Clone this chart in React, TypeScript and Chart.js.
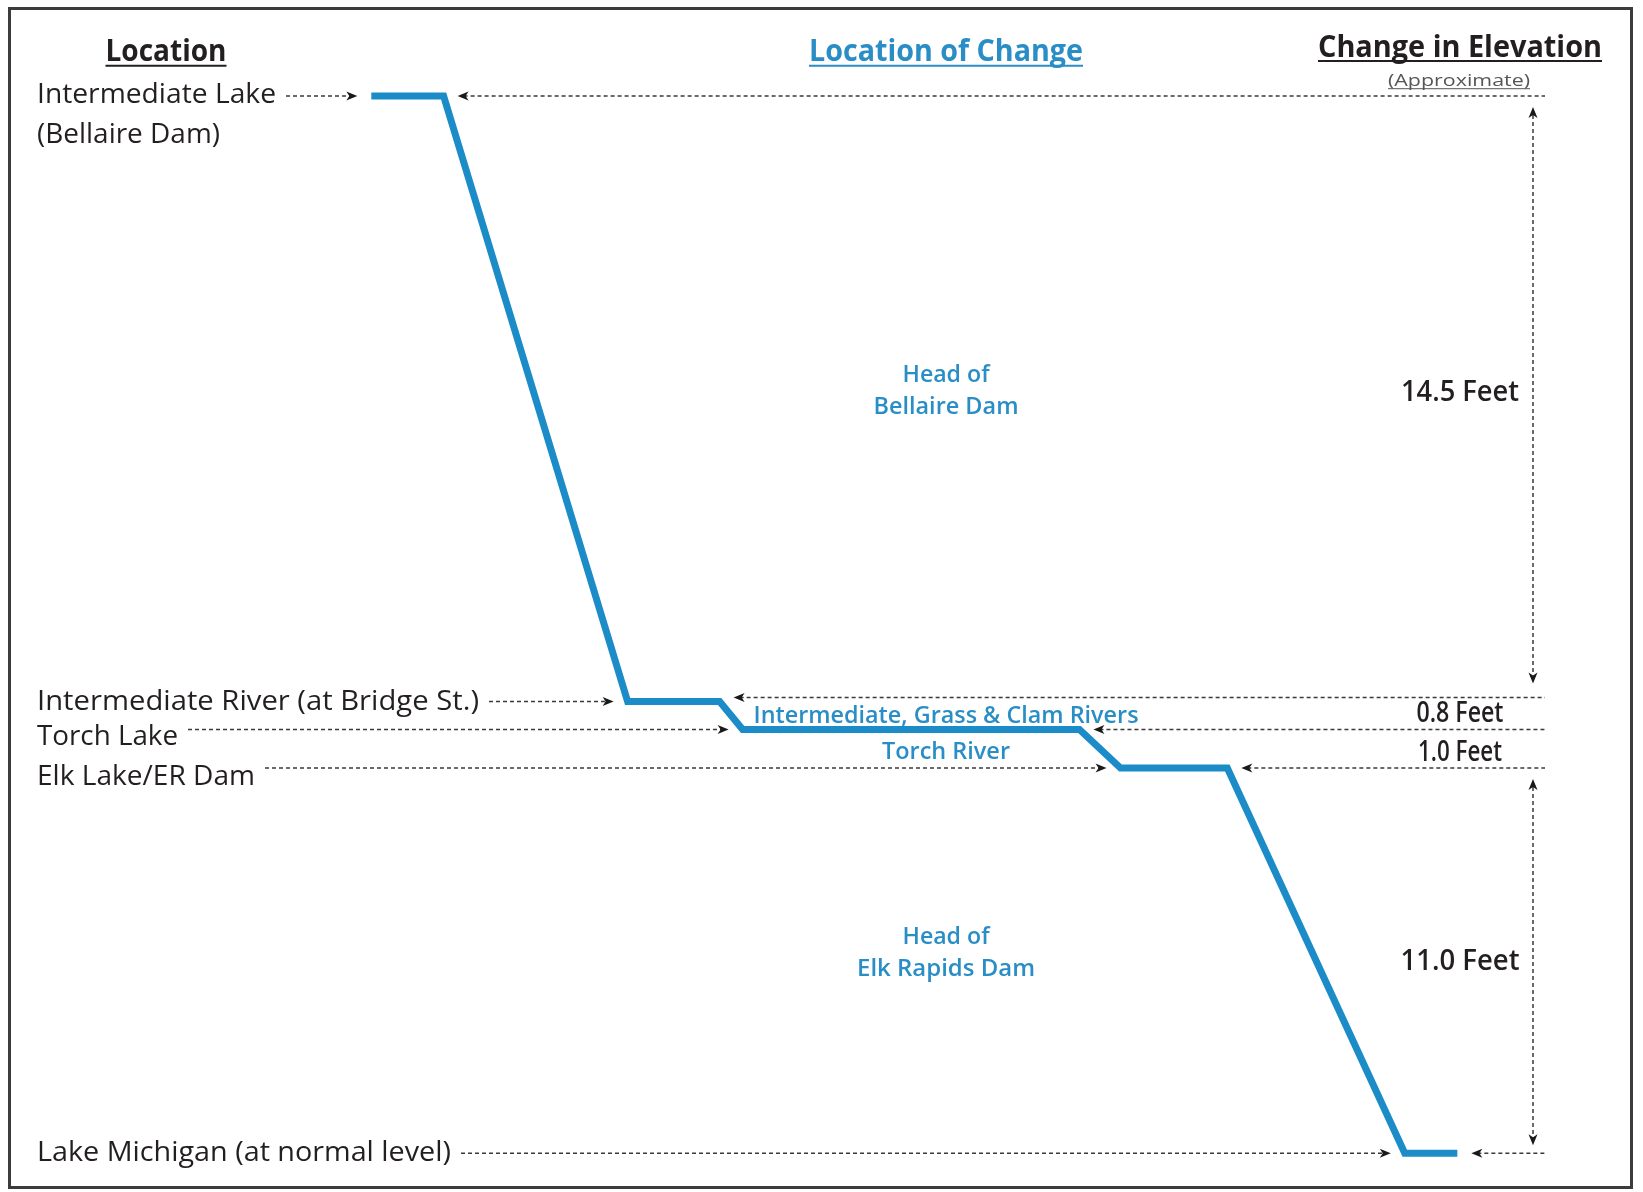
import React, { useEffect, useRef } from "react";
import { Chart, registerables } from "chart.js";

Chart.register(...registerables);

// ---------- data ----------
// profile vertices: position along the route (0-100) and drawn water level (ft-equivalent above Lake Michigan)
const routePos = [22.6, 27.0, 38.2, 43.8, 45.2, 65.7, 68.2, 74.7, 85.5, 88.7];
const profileLevel = [30.2, 30.2, 12.9, 12.9, 12.1, 12.1, 11.0, 11.0, 0, 0];

// locations (each one owns two consecutive vertices of the profile)
const locationNames = [
  "Intermediate Lake",
  "Intermediate River (at Bridge St.)",
  "Torch Lake",
  "Elk Lake/ER Dam",
  "Lake Michigan (at normal level)",
];
const firstLocationSubLabel = "(Bellaire Dam)";

// changes between consecutive locations
const changeFeet = [14.5, 0.8, 1.0, 11.0];
const changeNames = [
  ["Head of", "Bellaire Dam"],
  ["Intermediate, Grass & Clam Rivers"],
  ["Torch River"],
  ["Head of", "Elk Rapids Dam"],
];

const headerLocation = "Location";
const headerChange = "Location of Change";
const headerElevation = "Change in Elevation";
const headerApprox = "(Approximate)";

const yAxisMin = -1.11;
const yAxisMax = 32.94;

// ---------- styles / layout ----------
const W = 1643;
const H = 1192;
const LINE_BLUE = "#1b8cc8";
const TEXT_BLUE = "#2a8ec6";
const DARK = "#231f20";
const FONT = "'Open Sans', 'Noto Sans', sans-serif";
const LABEL_DY = [-3, -2, 5, 7, -2];
const RIGHT_LEADER_DY = [0, -4, 0, 0, 0];
const BLUE_DY = [0, -1, 2, 0];
const FEET_DY = [-8, -4, 2, -1];

const TEXT_W: Record<string, number> = {
  "Intermediate Lake": 239,
  "(Bellaire Dam)": 183,
  "Intermediate River (at Bridge St.)": 442,
  "Torch Lake": 141,
  "Elk Lake/ER Dam": 218,
  "Lake Michigan (at normal level)": 414,
  Location: 121,
  "Location of Change": 274,
  "Change in Elevation": 284,
  "(Approximate)": 142,
  "14.5 Feet": 118,
  "0.8 Feet": 87,
  "1.0 Feet": 84,
  "11.0 Feet": 119,
  "Head of": 87,
  "Bellaire Dam": 145,
  "Intermediate, Grass & Clam Rivers": 385,
  "Torch River": 128,
  "Elk Rapids Dam": 178,
};

function drawText(
  ctx: CanvasRenderingContext2D,
  s: string,
  x: number,
  centerY: number,
  size: number,
  weight: string,
  color: string,
  align: "left" | "center",
  underline?: { offset: number; width: number; color?: string }
) {
  ctx.save();
  ctx.font = `${weight} ${size}px ${FONT}`;
  ctx.fillStyle = color;
  ctx.textBaseline = "alphabetic";
  ctx.textAlign = "left";
  const natural = ctx.measureText(s).width;
  const target = TEXT_W[s] ?? natural;
  const sx = target / natural;
  const left = align === "left" ? x : x - target / 2;
  const baseline = centerY + size * 0.357;
  ctx.translate(left, baseline);
  ctx.scale(sx, 1);
  ctx.fillText(s, 0, 0);
  ctx.restore();
  if (underline) {
    ctx.save();
    ctx.strokeStyle = underline.color ?? color;
    ctx.lineWidth = underline.width;
    ctx.beginPath();
    ctx.moveTo(left, baseline + underline.offset);
    ctx.lineTo(left + target, baseline + underline.offset);
    ctx.stroke();
    ctx.restore();
  }
  return left + target;
}

function arrowHead(ctx: CanvasRenderingContext2D, x: number, y: number, dir: "l" | "r" | "u" | "d") {
  const len = 11;
  const hw = 4.5;
  ctx.save();
  ctx.fillStyle = "#1a1a1a";
  ctx.beginPath();
  ctx.moveTo(x, y);
  if (dir === "r") {
    ctx.lineTo(x - len, y - hw);
    ctx.lineTo(x - len + 3, y);
    ctx.lineTo(x - len, y + hw);
  } else if (dir === "l") {
    ctx.lineTo(x + len, y - hw);
    ctx.lineTo(x + len - 3, y);
    ctx.lineTo(x + len, y + hw);
  } else if (dir === "u") {
    ctx.lineTo(x - hw, y + len);
    ctx.lineTo(x, y + len - 3);
    ctx.lineTo(x + hw, y + len);
  } else {
    ctx.lineTo(x - hw, y - len);
    ctx.lineTo(x, y - len + 3);
    ctx.lineTo(x + hw, y - len);
  }
  ctx.closePath();
  ctx.fill();
  ctx.restore();
}

function dashed(ctx: CanvasRenderingContext2D, x1: number, y1: number, x2: number, y2: number) {
  ctx.save();
  ctx.strokeStyle = "#3a3a3a";
  ctx.lineWidth = 1.5;
  ctx.setLineDash([4, 3]);
  ctx.beginPath();
  ctx.moveTo(x1, y1);
  ctx.lineTo(x2, y2);
  ctx.stroke();
  ctx.restore();
}

const diagramPlugin = {
  id: "diagram",
  beforeDraw(chart: any) {
    const ctx: CanvasRenderingContext2D = chart.ctx;
    ctx.save();
    ctx.fillStyle = "#ffffff";
    ctx.fillRect(0, 0, chart.width, chart.height);
    ctx.strokeStyle = "#3c3c3c";
    ctx.lineWidth = 3;
    ctx.strokeRect(9.5, 8.5, 1622, 1179);
    ctx.restore();
  },
  afterDatasetsDraw(chart: any) {
    const ctx: CanvasRenderingContext2D = chart.ctx;
    const xs = chart.scales.x;
    const ys = chart.scales.y;
    const LEFT_X = 37;
    const RIGHT_END = 1545;
    const VERT_X = 1533;
    const GAP = 14;

    // headers
    drawText(ctx, headerLocation, 166, 50, 30, "bold", DARK, "center", { offset: 5, width: 2 });
    drawText(ctx, headerChange, 946, 50, 30, "bold", TEXT_BLUE, "center", { offset: 5, width: 2 });
    drawText(ctx, headerElevation, 1460, 46, 31, "bold", DARK, "center", { offset: 4, width: 2 });
    drawText(ctx, headerApprox, 1459, 80, 16, "normal", "#555", "center", { offset: 3, width: 1 });

    const levelPx: number[] = [];
    locationNames.forEach((name, i) => {
      const lvl = profileLevel[2 * i];
      const y = ys.getPixelForValue(lvl);
      levelPx.push(y);
      const xStart = xs.getPixelForValue(routePos[2 * i]);
      const xEnd = xs.getPixelForValue(routePos[2 * i + 1]);
      const textEnd = drawText(ctx, name, LEFT_X, y + LABEL_DY[i], 28, "normal", DARK, "left");
      if (i === 0) drawText(ctx, firstLocationSubLabel, LEFT_X, y + 37, 28, "normal", DARK, "left");
      // left leader
      dashed(ctx, textEnd + 10, y, xStart - GAP - 6, y);
      arrowHead(ctx, xStart - GAP, y, "r");
      // right leader
      const yr = y + RIGHT_LEADER_DY[i];
      dashed(ctx, xEnd + GAP + 6, yr, RIGHT_END, yr);
      arrowHead(ctx, xEnd + GAP, yr, "l");
    });

    // changes
    changeFeet.forEach((ft, i) => {
      const yTop = levelPx[i];
      const yBot = levelPx[i + 1];
      const mid = (yTop + yBot) / 2;
      const lines = changeNames[i];
      if (lines.length === 2) {
        drawText(ctx, lines[0], 946, mid - 25, 24, "600", TEXT_BLUE, "center");
        drawText(ctx, lines[1], 946, mid + 7, 24, "600", TEXT_BLUE, "center");
      } else {
        drawText(ctx, lines[0], 946, mid + BLUE_DY[i], 24, "600", TEXT_BLUE, "center");
      }
      drawText(ctx, `${ft.toFixed(1)} Feet`, 1460, mid + FEET_DY[i], 28, "600", DARK, "center");
      if (yBot - yTop > 100) {
        const t = yTop + 11;
        const b = yBot - (i === 0 ? 18 : 8);
        dashed(ctx, VERT_X, t + 8, VERT_X, b - 8);
        arrowHead(ctx, VERT_X, t, "u");
        arrowHead(ctx, VERT_X, b, "d");
      }
    });
  },
};

export default function App() {
  const ref = useRef<HTMLCanvasElement>(null);
  useEffect(() => {
    const canvas = ref.current;
    if (!canvas) return;
    const chart = new Chart(canvas, {
      type: "line",
      data: {
        datasets: [
          {
            data: routePos.map((x, i) => ({ x, y: profileLevel[i] })),
            borderColor: LINE_BLUE,
            borderWidth: 7,
            pointRadius: 0,
            pointHoverRadius: 0,
            tension: 0,
            fill: false,
            borderJoinStyle: "miter",
            borderCapStyle: "butt",
          } as any,
        ],
      },
      options: {
        responsive: false,
        animation: false,
        devicePixelRatio: 1,
        events: [],
        layout: { padding: 0 },
        scales: {
          x: { type: "linear", min: 0, max: 100, display: false },
          y: { type: "linear", min: yAxisMin, max: yAxisMax, display: false },
        },
        plugins: {
          legend: { display: false },
          tooltip: { enabled: false },
          title: { display: false },
        },
      },
      plugins: [diagramPlugin],
    });
    return () => chart.destroy();
  }, []);
  return (
    <div style={{ position: "absolute", left: 0, top: 0, width: W, height: H, background: "#fff" }}>
      <canvas ref={ref} width={W} height={H} style={{ display: "block", width: W, height: H }} />
    </div>
  );
}
